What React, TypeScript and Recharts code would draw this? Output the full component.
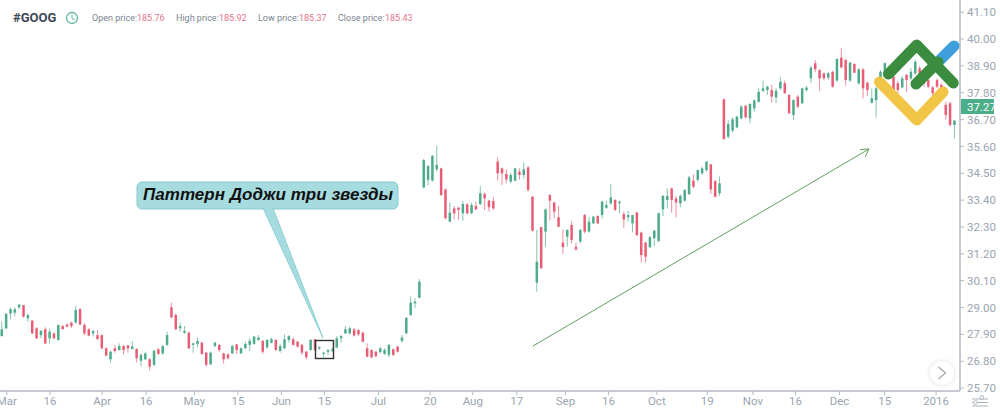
import { ComposedChart, Bar, XAxis, YAxis } from 'recharts';

const opens = [
  27.83,28.15,28.76,28.79,29.01,29.10,28.56,28.46,28.15,27.87,
  28.11,27.74,27.94,27.67,28.24,28.30,28.38,28.38,28.94,28.29,
  28.11,27.94,27.87,27.87,27.33,26.88,27.33,27.26,27.42,27.45,
  27.30,27.30,26.82,26.88,26.88,26.65,27.29,27.12,27.47,29.01,
  28.69,28.15,27.97,27.97,27.47,27.51,27.56,27.15,26.67,27.42,
  27.47,27.12,27.08,27.12,27.49,27.12,27.33,27.47,27.51,27.67,
  27.63,27.37,27.56,27.67,27.22,27.33,27.67,27.70,27.60,27.47,
  27.19,27.26,27.70,27.32,27.10,27.19,27.23,27.36,27.74,27.94,
  27.94,28.11,28.08,27.97,27.33,27.26,27.19,27.17,27.10,27.06,
  27.29,27.40,27.63,27.94,28.69,29.17,29.40,33.92,34.23,34.20,
  34.66,34.70,33.84,32.52,33.06,33.09,32.86,33.23,32.86,33.16,
  33.24,33.65,33.38,33.36,34.98,34.70,34.47,34.16,34.20,34.57,
  34.43,34.74,33.54,30.02,32.29,32.11,33.61,33.30,32.70,31.66,
  31.90,32.38,31.49,31.70,32.79,32.11,32.45,32.75,32.79,33.09,
  33.27,33.41,33.27,32.83,32.70,32.45,32.89,32.07,31.66,31.47,
  31.84,31.73,33.02,33.41,33.88,33.47,33.27,33.38,33.65,34.20,
  34.23,34.50,34.63,34.87,34.18,33.68,37.53,36.00,36.25,36.38,
  36.75,37.26,36.75,37.16,37.43,37.88,37.91,37.91,37.61,37.98,
  38.19,37.71,36.89,37.64,37.37,37.91,38.39,39.01,38.73,38.60,
  38.42,38.66,38.30,39.24,39.14,38.30,38.98,38.19,38.76,38.21,
  37.39,37.50,38.39,38.46,38.46,38.46,38.19,38.02,38.53,38.39,
  38.60,38.80,38.53,38.32,38.02,38.32,38.12,37.30,37.37,36.48,
];
const closes = [
  28.11,28.74,28.93,28.93,29.12,28.63,28.69,27.94,27.74,28.04,
  27.53,28.01,27.74,28.29,28.12,28.22,28.24,28.90,28.30,27.94,
  27.85,28.04,27.71,27.33,27.03,27.19,27.22,27.42,27.26,27.33,
  27.40,26.92,27.06,27.12,26.58,27.23,27.10,27.42,27.87,28.60,
  28.11,28.24,28.04,27.33,27.53,27.63,27.10,26.65,27.15,27.56,
  27.26,26.88,26.92,27.42,27.26,27.33,27.51,27.64,27.81,27.77,
  27.19,27.67,27.70,27.26,27.42,27.70,27.83,27.47,27.40,27.15,
  26.96,27.67,27.26,27.37,27.15,27.26,27.29,27.74,27.83,28.11,
  28.15,27.85,27.90,27.60,26.99,26.96,27.01,27.33,27.26,27.47,
  27.06,27.19,27.77,28.58,29.20,29.24,30.06,35.04,34.80,35.21,
  34.84,33.61,32.66,32.89,32.86,33.00,33.24,32.86,33.20,33.02,
  33.68,33.47,33.11,33.06,34.50,34.50,34.25,34.43,34.70,34.43,
  34.66,33.82,32.15,30.88,30.61,33.02,33.38,32.93,32.31,31.47,
  32.18,31.77,31.38,32.18,32.11,32.52,32.72,32.45,33.34,33.20,
  33.51,33.00,33.34,32.61,32.79,32.79,31.97,31.15,31.08,31.88,
  32.15,32.86,33.57,33.57,33.41,33.30,33.57,33.82,34.33,33.95,
  34.63,34.70,34.98,33.84,33.54,34.09,35.90,36.52,36.71,36.82,
  37.23,36.79,37.34,37.48,37.84,37.98,38.05,37.64,37.88,38.25,
  37.78,36.96,37.50,37.23,37.98,38.01,38.83,38.76,38.39,38.39,
  38.60,38.05,39.18,38.84,38.32,39.03,38.62,38.76,37.98,37.91,
  37.57,37.98,38.66,39.01,38.80,37.91,37.91,38.39,38.32,38.66,
  39.07,38.46,38.19,38.05,37.78,38.05,37.84,36.89,36.48,36.66,
];
const highs = [
  28.42,28.76,29.01,29.01,29.13,29.10,28.76,28.49,28.19,28.08,
  28.19,28.13,27.97,28.29,28.29,28.35,28.42,29.06,28.97,28.35,
  28.15,28.08,28.08,27.90,27.37,27.23,27.47,27.53,27.47,27.47,
  27.63,27.33,27.12,27.19,26.92,27.26,27.33,27.47,28.01,29.20,
  28.76,28.38,28.24,28.01,27.56,27.77,27.60,27.19,27.19,27.60,
  27.51,27.15,27.12,27.47,27.51,27.37,27.60,27.74,27.83,27.87,
  27.67,27.71,27.77,27.70,27.51,27.90,27.87,27.77,27.64,27.51,
  27.22,27.71,27.71,27.42,27.19,27.29,27.37,27.83,27.87,28.24,
  28.22,28.15,28.11,28.01,27.53,27.29,27.22,27.37,27.33,27.51,
  27.33,27.42,27.87,28.60,29.45,29.38,30.17,35.09,34.84,35.25,
  35.62,34.73,33.88,33.30,33.16,33.13,33.37,33.27,33.30,33.34,
  33.98,33.71,33.41,33.54,35.15,34.74,34.66,34.50,34.73,34.70,
  34.94,34.80,33.57,32.18,32.31,33.06,33.65,33.34,33.16,32.20,
  32.20,32.52,31.66,32.22,32.83,32.70,32.75,32.78,33.38,33.38,
  34.06,33.43,33.38,32.93,32.97,32.79,32.93,32.11,31.70,31.93,
  32.18,32.89,33.61,33.88,33.91,33.57,33.64,33.84,34.39,34.46,
  34.66,34.77,35.00,34.88,34.22,34.36,37.57,36.68,36.79,36.85,
  37.30,37.30,37.37,37.54,37.98,38.30,38.09,38.12,37.98,38.43,
  38.30,37.74,37.53,37.71,38.01,38.08,38.90,39.14,38.76,38.62,
  38.66,38.70,39.21,39.62,39.18,39.07,39.00,38.80,38.80,38.25,
  37.98,38.05,38.73,39.05,38.90,38.49,38.28,38.49,38.57,38.80,
  39.14,38.90,38.60,38.39,38.08,38.39,38.19,37.43,37.43,36.68,
];
const lows = [
  27.81,28.11,28.52,28.63,28.93,28.58,28.42,27.92,27.71,27.74,
  27.51,27.53,27.71,27.64,28.08,28.19,28.15,28.35,28.28,27.87,
  27.83,27.81,27.67,27.29,27.01,26.74,27.15,27.23,27.08,27.15,
  27.29,26.75,26.60,26.85,26.41,26.60,27.06,27.06,27.42,28.56,
  28.08,28.01,27.92,27.30,27.15,27.37,27.06,26.58,26.65,27.37,
  27.19,26.71,26.88,27.10,27.10,27.10,27.30,27.22,27.47,27.64,
  27.10,27.30,27.53,27.22,27.15,27.29,27.56,27.44,27.36,27.06,
  26.88,27.22,27.22,27.26,26.96,27.06,27.18,27.33,27.56,27.92,
  27.90,27.81,27.83,27.58,26.96,26.92,26.96,27.12,27.06,26.96,
  27.01,27.15,27.56,27.92,28.67,28.97,29.38,33.88,34.02,34.16,
  34.57,33.57,32.61,32.50,32.61,32.59,32.55,32.82,32.83,33.00,
  33.20,33.00,32.93,33.00,34.20,34.02,34.09,34.09,34.16,34.23,
  34.29,33.75,32.11,29.65,30.57,31.49,32.56,32.66,32.29,31.19,
  31.49,31.63,31.33,31.63,32.04,32.07,32.41,32.42,32.65,33.04,
  33.20,32.95,32.86,32.25,32.52,32.08,31.93,30.85,30.85,31.43,
  31.52,31.67,32.75,33.06,32.89,32.70,33.11,33.34,33.61,33.88,
  34.16,34.43,34.57,33.65,33.51,33.57,35.86,35.93,36.17,36.34,
  36.71,36.75,36.55,37.03,37.39,37.82,37.71,37.39,37.37,37.91,
  37.75,36.93,36.68,37.16,37.34,37.84,38.19,38.64,37.88,38.30,
  38.32,38.01,38.25,38.80,38.09,38.25,38.60,38.12,37.57,37.67,
  37.37,36.79,38.30,38.40,38.39,37.64,37.71,37.98,37.84,38.30,
  38.53,38.39,38.05,37.98,37.64,37.98,37.71,36.71,36.41,35.93,
];

const dateTicks = [1.2, 11.1, 23.1, 33.2, 44.3, 54.3, 64.3, 74.2, 86.6, 98.5, 108.3, 118.4, 129.6, 139.5, 150.6, 162.2, 172.7, 182.5, 192.6, 203, 214.8];
const dateLabels = ['Mar', '16', 'Apr', '16', 'May', '15', 'Jun', '15', 'Jul', '20', 'Aug', '17', 'Sep', '16', 'Oct', '19', 'Nov', '16', 'Dec', '15', '2016'];
const priceTicks = [41.1, 40, 38.9, 37.8, 36.7, 35.6, 34.5, 33.4, 32.3, 31.2, 30.1, 29, 27.9, 26.8, 25.7];
const headerStats = [
  { label: 'Open price:', value: '185.76', x: 92, vx: 137 },
  { label: 'High price:', value: '185.92', x: 176, vx: 219 },
  { label: 'Low price:', value: '185.37', x: 258, vx: 299 },
  { label: 'Close price:', value: '185.43', x: 338, vx: 385 },
];

const data = opens.map((open, i) => ({
  i,
  open,
  close: closes[i],
  high: highs[i],
  low: lows[i],
  range: [lows[i], highs[i]],
}));

const UP = '#4dab8a';
const DOWN = '#e85d75';
const FONT = 'Roboto, sans-serif';

function Candle(props: any) {
  const { x, y, width, height, payload } = props;
  const { open, close, high, low } = payload;
  const perUnit = height / (high - low);
  const top = y + (high - Math.max(open, close)) * perUnit;
  const bodyH = Math.max(Math.abs(open - close) * perUnit, 1);
  const color = close >= open ? UP : DOWN;
  const mid = x + width / 2;
  return (
    <g>
      <line x1={mid} x2={mid} y1={y} y2={y + height} stroke={color} strokeWidth={1} strokeOpacity={0.7} />
      <rect x={x} y={top} width={width} height={bodyH} fill={color} />
    </g>
  );
}

export default function App() {
  return (
    <div style={{ position: 'absolute', left: 0, top: 0, width: 1000, height: 412, background: '#fff', overflow: 'hidden' }}>
      <ComposedChart width={1000} height={412} data={data} margin={{ top: 0, right: 0, bottom: 0, left: 0 }}>
        <XAxis
          dataKey="i"
          type="number"
          domain={[-0.39, 220.3]}
          ticks={dateTicks}
          interval={0}
          height={21}
          tickSize={4}
          tickMargin={2}
          tickFormatter={(v) => dateLabels[dateTicks.indexOf(v)]}
          tick={{ fill: '#9aa4b0', fontSize: 11.5, fontFamily: FONT }}
          axisLine={{ stroke: '#b4bac2', strokeWidth: 1.5 }}
          tickLine={{ stroke: '#b4bac2' }}
        />
        <YAxis
          orientation="right"
          type="number"
          domain={[25.58, 41.6]}
          ticks={priceTicks}
          interval={0}
          width={40}
          tickSize={4}
          tickMargin={3}
          tickFormatter={(v) => v.toFixed(2)}
          tick={{ fill: '#9aa4b0', fontSize: 11.5, fontFamily: FONT }}
          axisLine={{ stroke: '#b4bac2', strokeWidth: 1.5 }}
          tickLine={{ stroke: '#b4bac2' }}
        />
        <Bar dataKey="range" barSize={2.5} shape={Candle} isAnimationActive={false} />
      </ComposedChart>

      <svg width={1000} height={412} style={{ position: 'absolute', left: 0, top: 0 }}>
        <text x={13} y={22} fontFamily={FONT} fontWeight={700} fontSize={13} fill="#3d4856">#GOOG</text>
        <circle cx={72} cy={18} r={5.5} fill="none" stroke="#62b59c" strokeWidth={1.3} />
        <path d="M72 14.5V18.5L75 20" fill="none" stroke="#62b59c" strokeWidth={1} />
        {headerStats.map((s) => (
          <g key={s.label} fontFamily={FONT} fontSize={9}>
            <text x={s.x} y={21} fill="#7a8490">{s.label}</text>
            <text x={s.vx} y={21} fill="#e4758a">{s.value}</text>
          </g>
        ))}

        <path d="M263 208L273 208L323 338Z" fill="#a6dce0" stroke="#8fd0d5" strokeWidth={1} />
        <rect x={137} y={182} width={261} height={27} rx={5} fill="#a6dce0" stroke="#86cbd0" strokeWidth={1} />
        <path d="M264 208H272" stroke="#a6dce0" strokeWidth={2.5} />
        <text x={143} y={200} fontFamily="'Liberation Sans', Arial, sans-serif" fontWeight={700} fontStyle="italic" fontSize={17} fill="#111" textLength={250}>Паттерн Доджи три звезды</text>
        <rect x={315.5} y={340.5} width={18} height={18} fill="none" stroke="#333" strokeWidth={1.4} />

        <path d="M533 346L869 149M860 149.5L869 149L865 157" fill="none" stroke="#5f9e60" strokeWidth={1} />

        <g fill="none" strokeLinecap="round" strokeLinejoin="round" strokeWidth={11}>
          <path d="M936 64L954 46" stroke="#3f9fdd" />
          <path d="M879.5 82L916.7 120L943 92" stroke="#f1c545" />
          <path d="M888.5 74L916.7 45L953.3 83M916 84L938 62" stroke="#3c8c40" />
        </g>

        <rect x={961} y={99} width={33} height={15} fill="#4aae89" />
        <text x={967} y={110.5} fontFamily={FONT} fontSize={11.5} fill="#fff">37.27</text>

        <circle cx={942} cy={373} r={12} fill="#fff" style={{ filter: 'drop-shadow(0 0 2px rgba(0,0,0,0.15))' }} />
        <path d="M938.5 367L945.5 373L938.5 379" fill="none" stroke="#a8a8a8" strokeWidth={1.3} />

        <g stroke="#a4acb6" strokeWidth={0.9} fill="#fff">
          <path d="M972 399H988M972 402.5H988M972 406H988" />
          <circle cx={982} cy={397.5} r={1.8} />
          <circle cx={975.5} cy={402.5} r={1.8} />
        </g>
      </svg>
    </div>
  );
}
